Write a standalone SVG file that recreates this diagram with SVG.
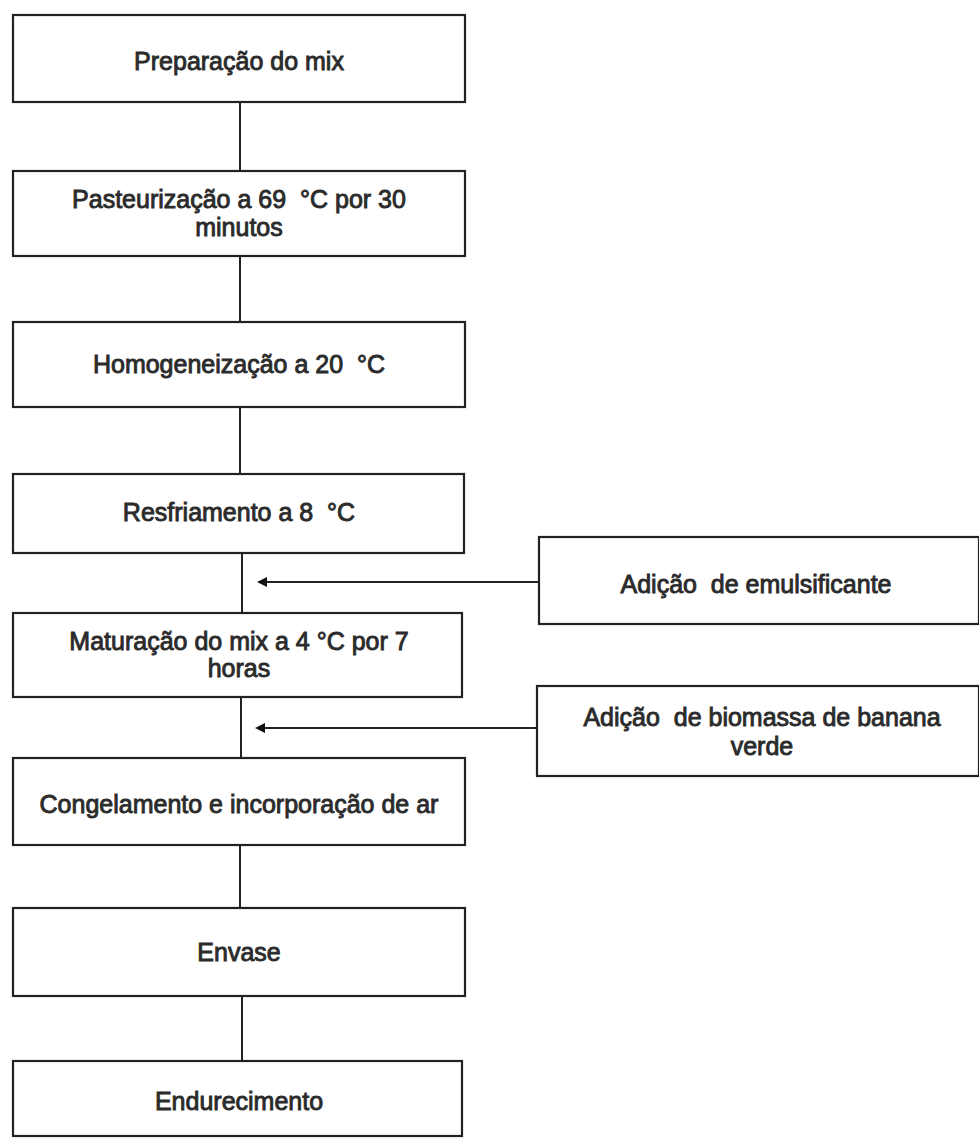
<svg xmlns="http://www.w3.org/2000/svg" width="979" height="1140" viewBox="0 0 979 1140">
<defs>
<style>
.box{fill:#fff;stroke:#222;stroke-width:2.2}
.t{font-family:"Liberation Sans",Arial,sans-serif;font-size:25px;fill:#2b2b2b;stroke:#2b2b2b;stroke-width:0.9;text-anchor:middle;white-space:pre}
.c{stroke:#222;stroke-width:2;fill:none}
</style>
<marker id="ah" viewBox="0 0 10 10" refX="1" refY="5" markerWidth="5" markerHeight="5" orient="auto-start-reverse">
<path d="M0,0 L10,5 L0,10 z" fill="#111"/>
</marker>
</defs>
<rect width="979" height="1140" fill="#fff"/>
<g id="connectors">
<line class="c" x1="240" y1="102" x2="240" y2="171"/>
<line class="c" x1="240" y1="256" x2="240" y2="322"/>
<line class="c" x1="240" y1="407" x2="240" y2="474"/>
<line class="c" x1="242" y1="553" x2="242" y2="613"/>
<line class="c" x1="241" y1="697" x2="241" y2="758"/>
<line class="c" x1="240" y1="845" x2="240" y2="908"/>
<line class="c" x1="242" y1="996" x2="242" y2="1061"/>
<line class="c" x1="539" y1="582" x2="266" y2="582" marker-end="url(#ah)"/>
<line class="c" x1="537" y1="728" x2="264" y2="728" marker-end="url(#ah)"/>
</g>
<g id="n1"><rect class="box" x="13" y="15" width="452" height="87"/><text class="t" x="239" y="70">Preparação do mix</text></g>
<g id="n2"><rect class="box" x="13" y="171" width="452" height="85"/><text class="t" x="239" y="208">Pasteurização a 69  °C por 30</text><text class="t" x="239" y="236">minutos</text></g>
<g id="n3"><rect class="box" x="13" y="322" width="452" height="85"/><text class="t" x="239" y="373">Homogeneização a 20  °C</text></g>
<g id="n4"><rect class="box" x="13" y="474" width="451" height="79"/><text class="t" x="239" y="521">Resfriamento a 8  °C</text></g>
<g id="n5"><rect class="box" x="13" y="613" width="449" height="84"/><text class="t" x="239" y="650">Maturação do mix a 4 °C por 7</text><text class="t" x="239" y="677">horas</text></g>
<g id="n6"><rect class="box" x="13" y="758" width="452" height="87"/><text class="t" x="239" y="813">Congelamento e incorporação de ar</text></g>
<g id="n7"><rect class="box" x="13" y="908" width="452" height="88"/><text class="t" x="239" y="961">Envase</text></g>
<g id="n8"><rect class="box" x="13" y="1061" width="449" height="75"/><text class="t" x="239" y="1110">Endurecimento</text></g>
<g id="a1"><rect class="box" x="539" y="537" width="440" height="87"/><text class="t" x="756" y="593">Adição  de emulsificante</text></g>
<g id="a2"><rect class="box" x="537" y="686" width="442" height="90"/><text class="t" x="762" y="726">Adição  de biomassa de banana</text><text class="t" x="762" y="755">verde</text></g>
</svg>
